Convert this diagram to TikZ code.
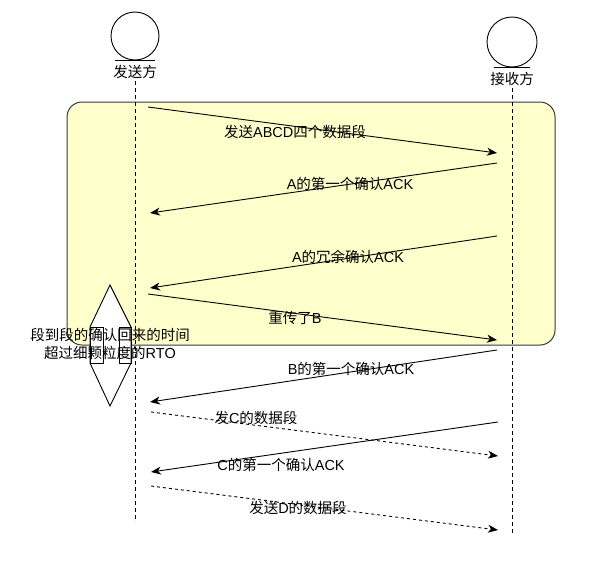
\documentclass[tikz,border=0pt]{standalone}
\usepackage{fontspec}
\setmainfont{Liberation Sans}
\newfontfamily\cjk{Noto Sans CJK SC}
\usetikzlibrary{arrows.meta}
\definecolor{boxfill}{HTML}{FFFFCC}
\definecolor{boxline}{HTML}{36393D}
\newcommand{\zh}[1]{{\cjk #1}}
\tikzset{
  lbl/.style={inner sep=0pt, font=\fontsize{14.5}{18}\selectfont, text=black},
  msg/.style={draw=black, line width=0.9pt, -{Stealth[length=10pt,width=8pt,inset=3pt]}},
  dmsg/.style={msg, dash pattern=on 3pt off 3pt},
  life/.style={draw=black, line width=0.9pt, dash pattern=on 4pt off 3pt},
  actor/.style={draw=black, line width=0.9pt, fill=white},
}
\begin{document}
\begin{tikzpicture}[x=1pt,y=-1pt]
\useasboundingbox (0,0) rectangle (610,562);
% frame
\draw[draw=boxline, fill=boxfill, line width=1pt, rounded corners=15pt] (67,102) rectangle (555,345);
% lifelines
\coordinate (sTop) at (135,81);
\coordinate (sBot) at (135,522);
\coordinate (rTop) at (512,88);
\coordinate (rBot) at (512,535);
\draw[life] (sTop) -- (sBot);
\draw[life] (rTop) -- (rBot);
% actors
\node[actor, circle, minimum size=48pt, inner sep=0pt] (sender) at (135,36) {};
\draw[line width=0.9pt] (115,60) -- (155,60);
\node[lbl] (senderL) at (135,72) {\zh{发送方}};
\node[actor, circle, minimum size=50pt, inner sep=0pt] (receiver) at (512,42) {};
\draw[line width=0.9pt] (494,67) -- (530,67);
\node[lbl] (receiverL) at (512,79) {\zh{接收方}};
% double arrow shape
\draw[line width=0.9pt, fill=white] (110,285) -- (90,327) -- (90,363) -- (110,406) -- (131,363) -- (131,327) -- cycle;
\draw[line width=0.9pt] (90,327) rectangle (103,363);
\draw[line width=0.9pt] (119,327) rectangle (131,363);
\node[lbl, align=center] (rto) at (110,344) {\zh{段到段的确认回来的时间}\\\zh{超过细颗粒度的}RTO};
% message endpoints
\coordinate (a1) at (148,107);  \coordinate (b1) at (497,153);
\coordinate (a2) at (497,163);  \coordinate (b2) at (150,213);
\coordinate (a3) at (497,236);  \coordinate (b3) at (150,288);
\coordinate (a4) at (148,294);  \coordinate (b4) at (497,340);
\coordinate (a5) at (497,350);  \coordinate (b5) at (150,402);
\coordinate (a6) at (151,412);  \coordinate (b6) at (498,456);
\coordinate (a7) at (498,422);  \coordinate (b7) at (151,472);
\coordinate (a8) at (151,486);  \coordinate (b8) at (498,530);
\draw[msg] (a1) -- (b1);
\draw[msg] (a2) -- (b2);
\draw[msg] (a3) -- (b3);
\draw[msg] (a4) -- (b4);
\draw[msg] (a5) -- (b5);
\draw[dmsg] (a6) -- (b6);
\draw[msg] (a7) -- (b7);
\draw[dmsg] (a8) -- (b8);
% labels
\node[lbl] (l1) at (295,132) {\zh{发送}ABCD\zh{四个数据段}};
\node[lbl] (l2) at (350,184) {A\zh{的第一个确认}ACK};
\node[lbl] (l3) at (348,257) {A\zh{的冗余确认}ACK};
\node[lbl] (l4) at (295,318) {\zh{重传了}B};
\node[lbl] (l5) at (351,369) {B\zh{的第一个确认}ACK};
\node[lbl] (l6) at (256,418) {\zh{发}C\zh{的数据段}};
\node[lbl] (l7) at (281,465) {C\zh{的第一个确认}ACK};
\node[lbl] (l8) at (298,508) {\zh{发送}D\zh{的数据段}};
\end{tikzpicture}
\end{document}
